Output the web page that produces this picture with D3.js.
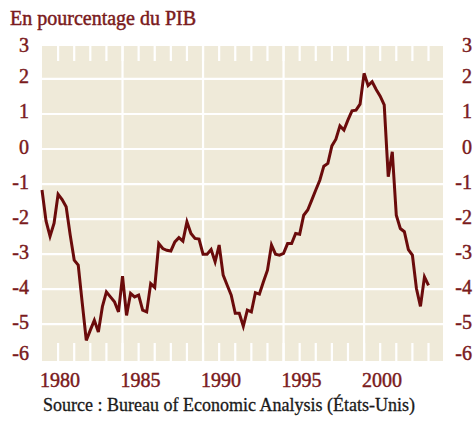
<!DOCTYPE html>
<html>
<head>
<meta charset="utf-8">
<script src="https://cdn.jsdelivr.net/npm/d3@7"></script>
<style>
html,body{margin:0;padding:0;background:#fff;}
svg{display:block;}
text{font-family:"Liberation Serif","Times New Roman",serif;}
</style>
</head>
<body>
<svg id="chart" width="474" height="421"></svg>
<script>
// Data: quarterly values, 1980Q1 .. 2004Q1 (% of GDP)
const startYear = 1980;
const values = [
  -1.17, -2.05, -2.49, -2.12,
  -1.29, -1.44, -1.65, -2.45,
  -3.17, -3.31, -4.40, -5.46,
  -5.17, -4.89, -5.22, -4.50,
  -4.08, -4.22, -4.36, -4.65,
  -3.63, -4.75, -4.12, -4.22,
  -4.17, -4.60, -4.65, -3.84,
  -3.95, -2.70, -2.84, -2.89,
  -2.91, -2.65, -2.53, -2.63,
  -2.08, -2.41, -2.55, -2.57,
  -3.00, -3.00, -2.87, -3.22,
  -2.74, -3.60, -3.89, -4.17,
  -4.69, -4.69, -5.06, -4.60,
  -4.65, -4.10, -4.14, -3.79,
  -3.46, -2.74, -3.00, -3.03,
  -2.98, -2.70, -2.70, -2.41,
  -2.43, -1.89, -1.74, -1.46,
  -1.17, -0.89, -0.49, -0.41,
   0.09,  0.28,  0.66,  0.54,
   0.83,  1.09,  1.11,  1.28,
   2.16,  1.81,  1.92,  1.70,
   1.51,  1.26, -0.79, -0.08,
  -1.89, -2.27, -2.36, -2.87,
  -3.03, -3.98, -4.49, -3.65,
  -3.89
];
const yTicks = [3, 2, 1, 0, -1, -2, -3, -4, -5, -6];
const xLabelYears = [1980, 1985, 1990, 1995, 2000];
const gridYears = [1985, 1990, 1995, 2000];
const minorYears = d3.range(1981, 2005);
const title = "En pourcentage du PIB";
const source = "Source : Bureau of Economic Analysis (États-Unis)";

const data = values.map((v, i) => ({t: startYear + i / 4, v}));

const svg = d3.select("#chart");
const L = 42, R = 443, T = 46, B = 361;
const x = d3.scaleLinear().domain([1980, 2004.9]).range([L, R]);
const y = d3.scaleLinear().domain([-6.05, 2.94]).range([B, T]);

const maroon = "#7a1a1c";

svg.append("rect").attr("x", L).attr("y", T).attr("width", R - L).attr("height", B - T)
  .attr("fill", "#efead9");

// horizontal gridlines
svg.append("g").selectAll("line").data([-5, -4, -3, -2, -1, 0, 1, 2]).join("line")
  .attr("x1", L).attr("x2", R).attr("y1", d => y(d)).attr("y2", d => y(d))
  .attr("stroke", "#fff").attr("stroke-width", 2.2);

// vertical gridlines
svg.append("g").selectAll("line").data(gridYears).join("line")
  .attr("x1", d => x(d)).attr("x2", d => x(d)).attr("y1", T).attr("y2", B)
  .attr("stroke", "#fff").attr("stroke-width", 2.2);

// minor ticks top & bottom
const mt = svg.append("g").attr("stroke", "#fff").attr("stroke-width", 2.2);
mt.selectAll("line.top").data(minorYears).join("line").attr("class", "top")
  .attr("x1", d => x(d)).attr("x2", d => x(d)).attr("y1", T).attr("y2", T + 15);
mt.selectAll("line.bot").data(minorYears).join("line").attr("class", "bot")
  .attr("x1", d => x(d)).attr("x2", d => x(d)).attr("y1", B - 18).attr("y2", B);

// line
const line = d3.line().x(d => x(d.t)).y(d => y(d.v));
svg.append("path").datum(data).attr("d", line)
  .attr("fill", "none").attr("stroke", "#6a0b0b").attr("stroke-width", 3)
  .attr("stroke-linejoin", "miter").attr("stroke-miterlimit", 4);

// y labels left and right
const ly = d => Math.max(52, Math.min(360, y(d) + 4.5));
const fmt = d => d < 0 ? "-" + Math.abs(d) : String(d);
const label = sel => sel.attr("font-size", 20).attr("fill", maroon)
  .attr("stroke", maroon).attr("stroke-width", 0.45);
svg.append("g").selectAll("text").data(yTicks).join("text")
  .attr("x", 29).attr("y", ly).attr("text-anchor", "end").call(label).text(fmt);
svg.append("g").selectAll("text").data(yTicks).join("text")
  .attr("x", 472).attr("y", ly).attr("text-anchor", "end").call(label).text(fmt);

// x labels
svg.append("g").selectAll("text").data(xLabelYears).join("text")
  .attr("x", d => x(d) - 2).attr("y", 387).attr("text-anchor", "start")
  .call(label).text(d => d);

// title
svg.append("text").attr("x", 10).attr("y", 25).call(label).text(title);

// source
svg.append("text").attr("x", 43).attr("y", 411).attr("font-size", 18)
  .attr("fill", "#1a1a1a").attr("stroke", "#1a1a1a").attr("stroke-width", 0.3)
  .text(source);
</script>
</body>
</html>
